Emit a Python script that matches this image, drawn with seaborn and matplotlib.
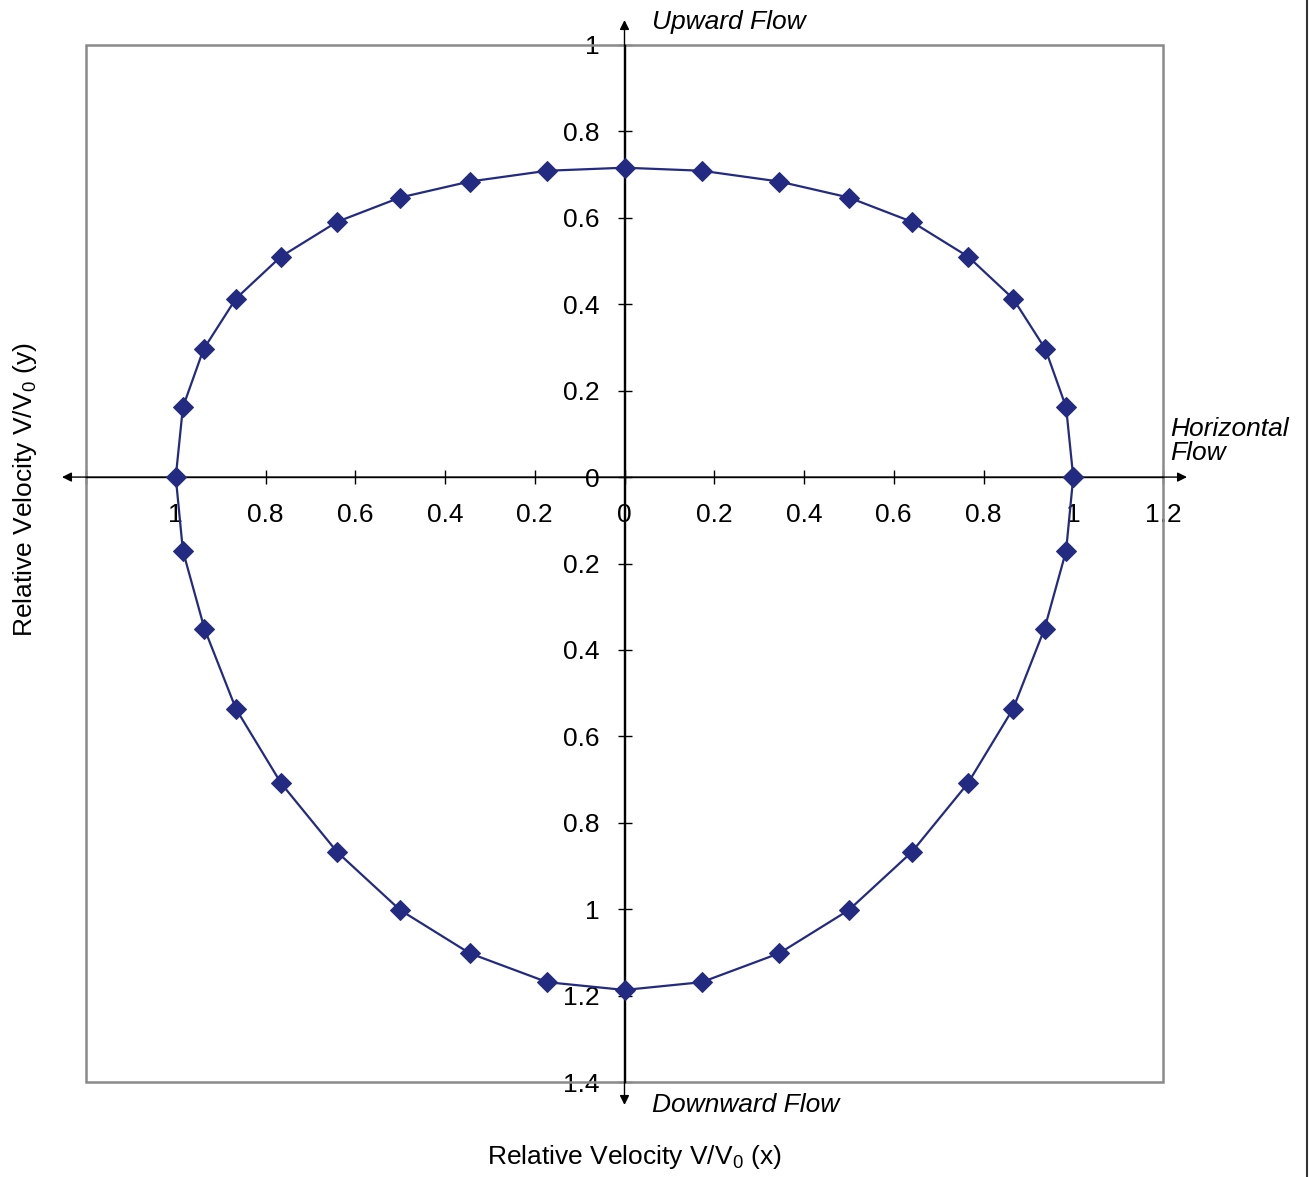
import matplotlib
matplotlib.use("Agg")
import matplotlib.pyplot as plt
from matplotlib.patches import Rectangle, FancyArrowPatch
from matplotlib.lines import Line2D
from matplotlib.ticker import FuncFormatter, FixedLocator
import seaborn as sns
import pandas as pd

# ---- data ----
upper_x = [1.0, 0.984, 0.938, 0.866, 0.766, 0.640, 0.500, 0.345, 0.172, 0.0,
           -0.172, -0.345, -0.500, -0.640, -0.766, -0.866, -0.938, -0.984, -1.0]
upper_y = [0.0, 0.162, 0.296, 0.413, 0.510, 0.591, 0.647, 0.684, 0.709, 0.716,
           0.709, 0.684, 0.647, 0.591, 0.510, 0.413, 0.296, 0.162, 0.0]
lower_x = [-0.984, -0.936, -0.866, -0.765, -0.640, -0.500, -0.345, -0.172, 0.0,
           0.172, 0.345, 0.500, 0.640, 0.765, 0.866, 0.936, 0.984, 1.0]
lower_y = [-0.171, -0.351, -0.536, -0.709, -0.868, -1.002, -1.102, -1.169, -1.187,
           -1.169, -1.102, -1.002, -0.868, -0.709, -0.536, -0.351, -0.171, 0.0]

x_ticks = [-1.2, -1.0, -0.8, -0.6, -0.4, -0.2, 0.0, 0.2, 0.4, 0.6, 0.8, 1.0, 1.2]
y_ticks = [-1.4, -1.2, -1.0, -0.8, -0.6, -0.4, -0.2, 0.0, 0.2, 0.4, 0.6, 0.8, 1.0]

x_label = "Relative Velocity V/V$_0$ (x)"
y_label = "Relative Velocity V/V$_0$ (y)"
up_text = "Upward Flow"
down_text = "Downward Flow"
horiz_text = "Horizontal\nFlow"

df = pd.DataFrame({
    "x": upper_x + lower_x,
    "y": upper_y + lower_y,
})

sns.set_theme(style="white")
plt.rcParams["font.family"] = ["Liberation Sans", "DejaVu Sans"]
plt.rcParams["mathtext.fontset"] = "custom"
plt.rcParams["mathtext.rm"] = "Liberation Sans"
plt.rcParams["mathtext.it"] = "Liberation Sans:italic"
plt.rcParams["text.color"] = "black"

FS = 19

W, H = 1310, 1177
fig = plt.figure(figsize=(W / 100, H / 100), dpi=100)
fig.patch.set_facecolor("white")
ax = fig.add_axes([86 / W, 1 - 1082 / H, (1163 - 86) / W, (1082 - 45) / H])

navy = "#232a82"
sns.lineplot(data=df, x="x", y="y", sort=False, estimator=None, errorbar=None,
             ax=ax, color=navy, lw=1.6,
             marker="D", markersize=10, markeredgecolor=navy,
             markerfacecolor=navy, zorder=5, clip_on=False)

ax.set_xlim(-1.2, 1.2)
ax.set_ylim(-1.4, 1.0)
ax.set_xlabel("")
ax.set_ylabel("")

# gray plot-area frame
for s in ["top", "right"]:
    ax.spines[s].set_visible(False)
ax.spines["left"].set_position(("data", 0))
ax.spines["bottom"].set_position(("data", 0))
ax.spines["left"].set_color("black")
ax.spines["bottom"].set_color("black")
ax.spines["left"].set_linewidth(1.0)
ax.spines["bottom"].set_linewidth(1.0)
ax.add_patch(Rectangle((0, 0), 1, 1, transform=ax.transAxes, fill=False,
                       edgecolor="#8a8a8a", lw=1.8, clip_on=False, zorder=1))

ax.xaxis.set_major_locator(FixedLocator(x_ticks))
ax.yaxis.set_major_locator(FixedLocator(y_ticks))


def xfmt(v, pos):
    if abs(v + 1.2) < 1e-6:
        return ""
    return f"{abs(v):g}"


def yfmt(v, pos):
    return f"{abs(v):g}"


ax.xaxis.set_major_formatter(FuncFormatter(xfmt))
ax.yaxis.set_major_formatter(FuncFormatter(yfmt))
ax.tick_params(axis="both", which="major", direction="inout", length=10,
               width=1.0, color="black", labelsize=FS, labelcolor="black")
ax.tick_params(axis="x", pad=14)
ax.tick_params(axis="y", pad=13)
ax.tick_params(left=True, bottom=True)

# arrowed center axes extending beyond the frame
ytop = 1.0 + 25 / 433
ybot = -1.4 - 23 / 433
xext = 1.2 + 24 / 449
ax.add_patch(FancyArrowPatch((0, ybot), (0, ytop), arrowstyle="<|-|>",
                             mutation_scale=14, lw=1.0, color="black",
                             clip_on=False, zorder=3, shrinkA=0, shrinkB=0))
ax.add_patch(FancyArrowPatch((-xext, 0), (xext, 0), arrowstyle="<|-|>",
                             mutation_scale=14, lw=1.0, color="black",
                             clip_on=False, zorder=3, shrinkA=0, shrinkB=0))

# annotations
fig.text(652 / W, 1 - 22 / H, up_text, fontsize=FS, style="italic",
         ha="left", va="center", color="black")
fig.text(652 / W, 1 - 1105 / H, down_text, fontsize=FS, style="italic",
         ha="left", va="center", color="black")
fig.text(1170 / W, 1 - 441 / H, horiz_text, fontsize=FS, style="italic",
         ha="left", va="center", linespacing=1.0, color="black")
fig.text(634 / W, 1 - 1157 / H, x_label, fontsize=FS, ha="center", va="center",
         color="black")
fig.text(25 / W, 1 - 490 / H, y_label, fontsize=FS, ha="center", va="center",
         rotation=90, color="black")

# right border line of the original picture
fig.add_artist(Line2D([1306.5 / W, 1306.5 / W], [0, 1], transform=fig.transFigure,
                      color="#333333", lw=1.5))

fig.savefig("out.png", dpi=100)
